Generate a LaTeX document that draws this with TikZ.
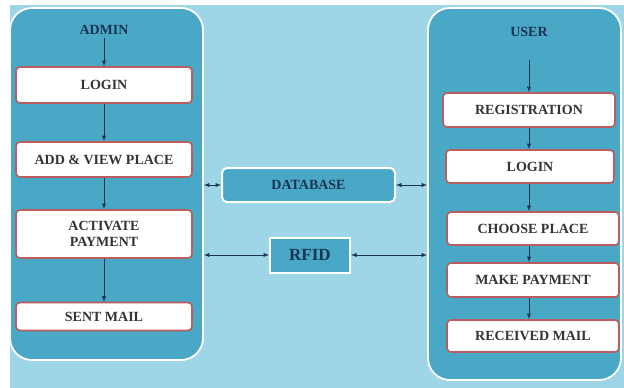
\documentclass[tikz,border=0pt]{standalone}
\usepackage{fontspec}
\setmainfont{Liberation Serif}
\usepackage{tikz}
\usetikzlibrary{arrows}
\definecolor{bgblue}{RGB}{158,214,231}
\definecolor{panblue}{RGB}{72,168,198}
\definecolor{boxred}{RGB}{188,92,92}
\definecolor{navy}{RGB}{24,52,82}
\definecolor{txtgray}{RGB}{52,52,52}
\newcommand{\lblfont}{\fontsize{14}{16}\selectfont\bfseries}
\tikzset{
  panel/.style={fill=panblue,draw=white,line width=1.8pt,rounded corners=22pt},
  stepbox/.style={draw=boxred,fill=white,line width=1.6pt,rounded corners=4pt,
    text=txtgray,align=center,inner sep=0pt,font=\lblfont},
  midbox/.style={draw=white,fill=panblue,line width=2pt,text=navy,inner sep=0pt,font=\lblfont},
  head/.style={text=navy,font=\lblfont},
  flow/.style={->,>=latex,line width=0.9pt,draw=navy},
  both/.style={<->,>=latex,line width=0.9pt,draw=navy}
}

\begin{document}
\begin{tikzpicture}[x=1pt,y=-1pt]
        \useasboundingbox[fill=white] (0,0) rectangle (624,388);
        \fill[bgblue] (10,5) rectangle (624,388);
        % the two side panels
        \node[panel,minimum width=193pt,minimum height=352pt] (Admp) at (106.5,184) {};
        \node[panel,minimum width=193pt,minimum height=372pt] (Usrp) at (524.5,194) {};
        % admin side
        \node[head] (Admi) at (104,30) {ADMIN};
        \node[stepbox,minimum width=176pt,minimum height=36pt] (LogA) at (104,85) {LOGIN};
        \node[stepbox,minimum width=176pt,minimum height=35pt] (Plac) at (104,159.5) {ADD \& VIEW PLACE};
        \node[stepbox,minimum width=176pt,minimum height=48pt] (Actv) at (104,234) {ACTIVATE\\PAYMENT};
        \node[stepbox,minimum width=176pt,minimum height=28pt] (Sent) at (104,316.5) {SENT MAIL};
        \draw[flow] (Admi) -- (LogA);
        \draw[flow] (LogA) -- (Plac);
        \draw[flow] (Plac) -- (Actv);
        \draw[flow] (Actv) -- (Sent);
        % user side
        \node[head] (User) at (529,32) {USER};
        \coordinate (UsrS) at (529,60);
        \node[stepbox,minimum width=172pt,minimum height=34pt] (Regi) at (529,110) {REGISTRATION};
        \node[stepbox,minimum width=168pt,minimum height=33pt] (LogU) at (530,166.5) {LOGIN};
        \node[stepbox,minimum width=172pt,minimum height=33pt] (Choo) at (533,228.5) {CHOOSE PLACE};
        \node[stepbox,minimum width=172pt,minimum height=34pt] (Make) at (533,280) {MAKE PAYMENT};
        \node[stepbox,minimum width=172pt,minimum height=32pt] (Recv) at (533,336) {RECEIVED MAIL};
        \draw[flow] (UsrS) -- (Regi.north -| UsrS);
        \draw[flow] (Regi.south -| UsrS) -- (LogU.north -| UsrS);
        \draw[flow] (LogU.south -| UsrS) -- (Choo.north -| UsrS);
        \draw[flow] (Choo.south -| UsrS) -- (Make.north -| UsrS);
        \draw[flow] (Make.south -| UsrS) -- (Recv.north -| UsrS);
        % middle
        \node[midbox,rounded corners=5pt,minimum width=173pt,minimum height=34pt] (Data) at (308.5,185) {DATABASE};
        \node[midbox,minimum width=80pt,minimum height=35pt,font=\fontsize{17}{19}\selectfont\bfseries] (Rfid) at (310,255) {RFID};
        \draw[both] (Admp.east |- Data.west) -- (Data.west);
        \draw[both] (Data.east) -- (Usrp.west |- Data.east);
        \draw[both] (Admp.east |- Rfid.west) -- (Rfid.west);
        \draw[both] (Rfid.east) -- (Usrp.west |- Rfid.east);
      \end{tikzpicture}
\end{document}
